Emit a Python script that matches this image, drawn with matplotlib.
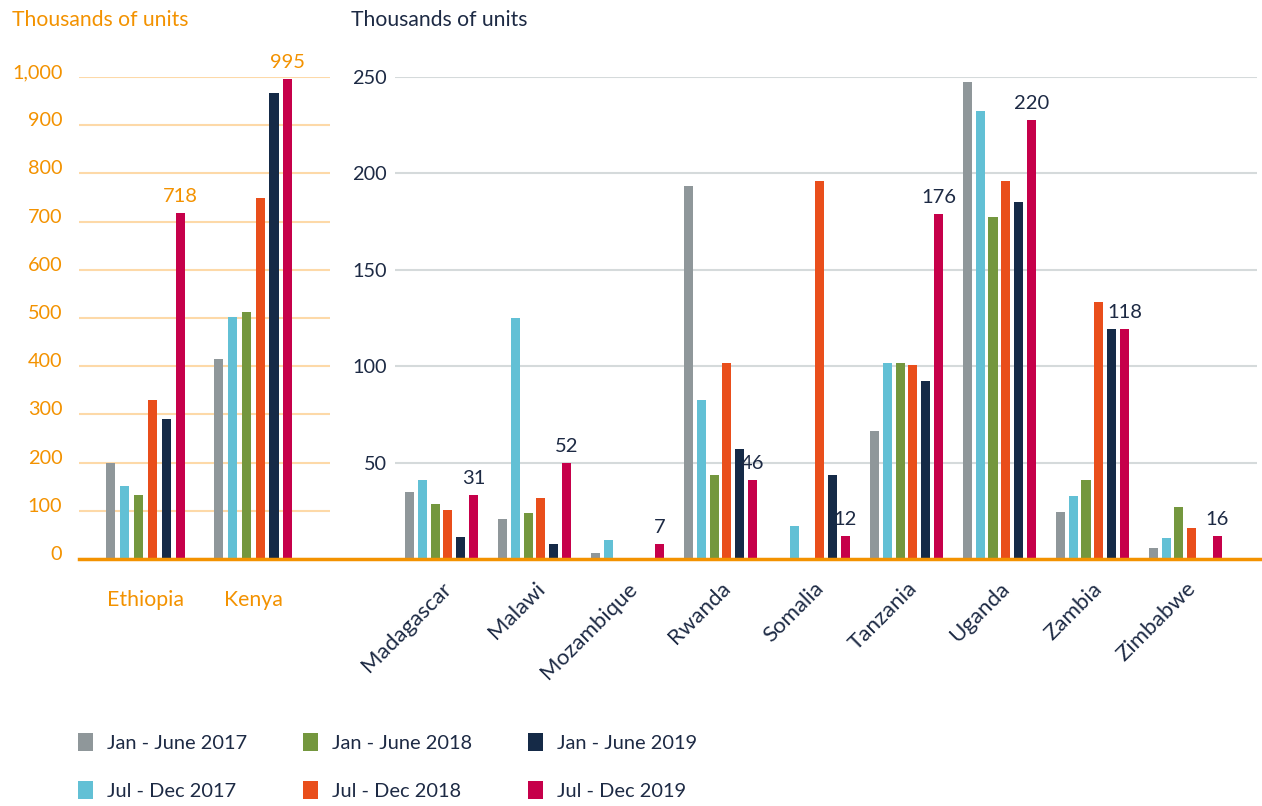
import matplotlib
matplotlib.use('Agg')
import matplotlib.pyplot as plt
from matplotlib.patches import Patch
from matplotlib.lines import Line2D
from matplotlib.transforms import ScaledTranslation
import numpy as np

plt.rcParams['font.family'] = ['Lato', 'DejaVu Sans']

periods = ['Jan - June 2017', 'Jul - Dec 2017', 'Jan - June 2018',
           'Jul - Dec 2018', 'Jan - June 2019', 'Jul - Dec 2019']
colors = ['#8f979a', '#62c0d5', '#74973e', '#e94e1b', '#152a47', '#c6004a']

# large markets (left panel), thousands of units
big_countries = ['Ethiopia', 'Kenya']
big_values = [
    [200, 415],   # Jan - June 2017
    [152, 502],   # Jul - Dec 2017
    [133, 512],   # Jan - June 2018
    [330, 749],   # Jul - Dec 2018
    [291, 967],   # Jan - June 2019
    [718, 995],   # Jul - Dec 2019
]
big_labels = ['718', '995']

# other markets (right panel), thousands of units
countries = ['Madagascar', 'Malawi', 'Mozambique', 'Rwanda', 'Somalia',
             'Tanzania', 'Uganda', 'Zambia', 'Zimbabwe']
values = [
    [34.6, 20.6, 3.0, 193.3, 0, 66.2, 247.3, 24.2, 5.5],
    [40.8, 124.8, 9.7, 82.3, 17.0, 101.5, 232.2, 32.5, 10.7],
    [28.4, 23.7, 0, 43.4, 0, 101.5, 177.2, 40.8, 26.8],
    [25.3, 31.5, 0, 101.5, 196.3, 100.5, 196.3, 133.1, 15.9],
    [11.3, 7.6, 0, 56.9, 43.4, 92.2, 185.0, 119.1, 0],
    [33.0, 49.6, 7.6, 40.8, 11.8, 178.8, 227.5, 119.1, 11.8],
]
labels = ['31', '52', '7', '46', '12', '176', '220', '118', '16']

orange = '#f39200'
navy = '#1d2a44'

W, H = 1262, 806
fig = plt.figure(figsize=(W / 100, H / 100), dpi=100)

def px_box(x0, x1, ytop, ybot):
    return [x0 / W, 1 - ybot / H, (x1 - x0) / W, (ybot - ytop) / H]

ax1 = fig.add_axes(px_box(79, 330, 77, 559))
ax2 = fig.add_axes(px_box(395, 1257, 77, 559))

# left panel
x = np.arange(len(big_countries))
step, width = 0.13, 0.084
for i, (vals, c) in enumerate(zip(big_values, colors)):
    ax1.bar(x + (i - 2.5) * step, vals, width, color=c, zorder=3)
for xi, v, lab in zip(x, big_values[-1], big_labels):
    ax1.annotate(lab, (xi + 2.5 * step, v), xytext=(0, 8), textcoords='offset pixels',
                 ha='center', va='bottom', color=orange, fontsize=14.5)
ax1.set_xlim(-0.619, 1.716)
ax1.set_ylim(0, 1000)
ax1.set_yticks(range(0, 1001, 100))
ax1.set_yticklabels([f'{v:,}' for v in range(0, 1001, 100)])
ax1.set_xticks(x)
ax1.set_xticklabels(big_countries)
ax1.tick_params(axis='y', length=0, pad=12, labelsize=14.3, labelcolor=orange)
ax1.tick_params(axis='x', length=0, pad=22, labelsize=15.3, labelcolor=orange)
ax1.grid(axis='y', color='#fdd9a8', linewidth=1.5, zorder=0)
for lab in ax1.get_yticklabels():
    lab.set_transform(lab.get_transform() + ScaledTranslation(0, 6 / 100, fig.dpi_scale_trans))

# right panel
x2 = np.arange(len(countries))
step2, width2 = 0.138, 0.097
for i, (vals, c) in enumerate(zip(values, colors)):
    ax2.bar(x2 + (i - 2.5) * step2, vals, width2, color=c, zorder=3)
for xi, v, lab in zip(x2, values[-1], labels):
    ax2.annotate(lab, (xi + 2.5 * step2, v), xytext=(0, 8), textcoords='offset pixels',
                 ha='center', va='bottom', color=navy, fontsize=14.5)
ax2.set_xlim(-0.5, 8.77)
ax2.set_ylim(0, 250)
ax2.set_yticks([50, 100, 150, 200, 250])
ax2.set_xticks(x2)
ax2.set_xticklabels(countries, rotation=45, ha='right', rotation_mode='anchor')
ax2.tick_params(axis='y', length=0, pad=6, labelsize=14.3, labelcolor=navy)
ax2.tick_params(axis='x', length=0, pad=14, labelsize=16, labelcolor=navy)
ax2.grid(axis='y', color='#d5dadb', linewidth=1.5, zorder=0)

for ax in (ax1, ax2):
    for s in ax.spines.values():
        s.set_visible(False)
    ax.set_axisbelow(True)

# continuous baseline across both panels
fig.add_artist(Line2D([79 / W, 1262 / W], [1 - 559 / H, 1 - 559 / H],
                      color=orange, linewidth=2.5, zorder=5))

fig.text(12 / W, 1 - 20 / H, 'Thousands of units', color=orange, fontsize=15.2, va='center')
fig.text(351 / W, 1 - 20 / H, 'Thousands of units', color=navy, fontsize=15.2, va='center')

handles = [Patch(facecolor=c, label=p) for p, c in zip(periods, colors)]
fig.legend(handles=handles, ncol=3, loc='upper left',
           bbox_to_anchor=(78 / W, 1 - 733 / H), frameon=False, borderpad=0,
           borderaxespad=0, fontsize=14.4, labelcolor=navy, handlelength=0.75,
           handleheight=1.0, handletextpad=0.7, columnspacing=2.8, labelspacing=1.45)

fig.savefig('out.png', dpi=100)
